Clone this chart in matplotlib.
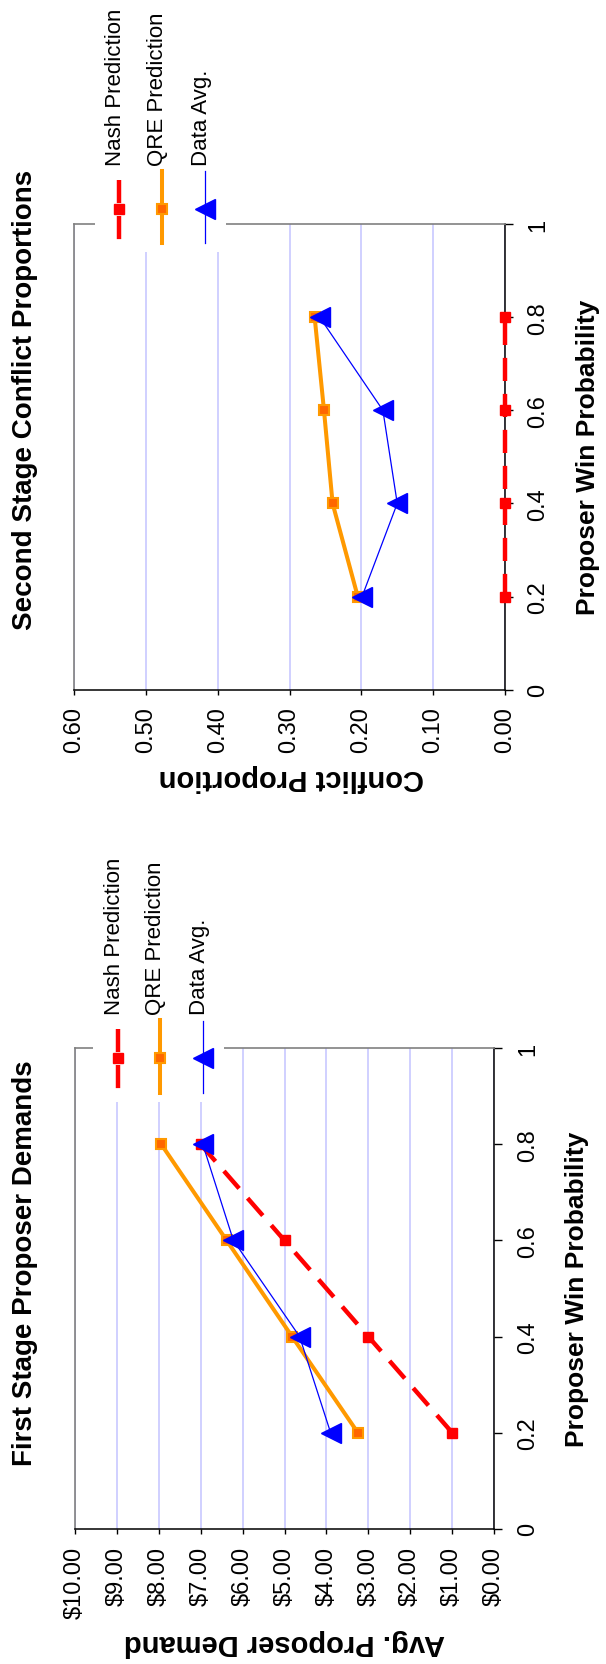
import numpy as np
import matplotlib
matplotlib.use("Agg")
import matplotlib.pyplot as plt
from matplotlib.lines import Line2D
from matplotlib.patches import Rectangle
from matplotlib.ticker import FuncFormatter
from matplotlib import font_manager as fm

# data
prob = [0.2, 0.4, 0.6, 0.8]
labels = ["Nash Prediction", "QRE Prediction", "Data Avg."]

demand_nash = [1.00, 3.00, 5.00, 7.00]
demand_qre = [3.25, 4.82, 6.38, 7.94]
demand_data = [3.90, 4.64, 6.22, 6.95]

conflict_nash = [0.0, 0.0, 0.0, 0.0]
conflict_qre = [0.205, 0.240, 0.252, 0.265]
conflict_data = [0.199, 0.150, 0.170, 0.258]

prob_ticks = [0, 0.2, 0.4, 0.6, 0.8, 1]

W, H = 606, 1665

names = {f.name for f in fm.fontManager.ttflist}
if "Liberation Sans Narrow" in names:
    small_font, small_size, leg_size = "Liberation Sans Narrow", 19, 19
else:
    small_font, small_size, leg_size = "Liberation Sans", 17, 16
plt.rcParams['font.family'] = ['Liberation Sans', 'DejaVu Sans']

nash_style = dict(color='#FF0000', lw=3.2, ls=(0, (5.2, 2.9)), marker='s', ms=7.5,
                  mfc='#FF0000', mec='#FF0000')
qre_style = dict(color='#FF9900', lw=2.9, marker='s', ms=7.5, mfc='#FF6600',
                 mec='#FF9900', mew=1.5)
data_style = dict(color='#0000FF', lw=0.9, marker='<', ms=14.5, mfc='#0000FF',
                  mec='#0000FF')
styles = [nash_style, qre_style, data_style]


def fx(px):
    return px / W


def fy(py):
    return 1 - py / H


fig = plt.figure(figsize=(W / 100, H / 100), dpi=100)


def make_axes(left, top, right, bottom):
    return fig.add_axes([fx(left), fy(bottom), (right - left) / W, (bottom - top) / H])


def setup(ax, xmax, xstep, fmt, xpad, ypad):
    ax.set_xlim(xmax, 0)
    ax.set_ylim(0, 1)
    ax.set_xticks(np.arange(0, xmax + xstep / 2, xstep))
    ax.xaxis.set_major_formatter(FuncFormatter(fmt))
    ax.yaxis.tick_right()
    ax.set_yticks(prob_ticks)
    ax.yaxis.set_major_formatter(FuncFormatter(lambda v, p: '%g' % v))
    ax.grid(axis='x', color='#C8C8FF', lw=1.2)
    ax.grid(axis='y', visible=False)
    ax.set_axisbelow(True)
    for s in ['left', 'top']:
        ax.spines[s].set_color('#808080')
        ax.spines[s].set_linewidth(1.2)
    for s in ['right', 'bottom']:
        ax.spines[s].set_color('black')
        ax.spines[s].set_linewidth(1.1)
    ax.tick_params(axis='x', direction='out', length=3.6, width=1, labelrotation=90,
                   pad=xpad, labelsize=small_size)
    ax.tick_params(axis='y', direction='out', length=5.8, width=1, labelrotation=90,
                   pad=ypad, labelsize=small_size, left=False, right=True)
    for lbl in ax.get_xticklabels() + ax.get_yticklabels():
        lbl.set_fontfamily(small_font)
    for lbl in ax.get_yticklabels():
        lbl.set_va('center')


def legend(xs, y_text, y0, y1, ym, box):
    fig.add_artist(Rectangle((fx(box[0]), fy(box[3])), (box[2] - box[0]) / W,
                             (box[3] - box[1]) / H, transform=fig.transFigure,
                             facecolor='white', edgecolor='none', zorder=4))
    for x, lab, st, start in zip(xs, labels, styles, y0):
        fig.add_artist(Line2D([fx(x)] * 3, [fy(start), fy(ym), fy(y1)],
                              transform=fig.transFigure, markevery=[1],
                              zorder=5, **st))
        fig.text(fx(x - 4), fy(y_text), lab, rotation=90, ha='center', va='bottom',
                 fontsize=leg_size, family=small_font, zorder=6)


# upper chart: second stage conflict
ax1 = make_axes(74, 225, 505, 690.7)
ax1.plot(conflict_nash, prob, clip_on=False, zorder=3, **nash_style)
ax1.plot(conflict_qre, prob, zorder=3, **qre_style)
ax1.plot(conflict_data, prob, zorder=3, **data_style)
setup(ax1, 0.6, 0.1, lambda v, p: '%.2f' % v, 8, 10)
ax1.set_xlabel('Conflict Proportion', rotation=180, fontsize=21, fontweight='bold')
ax1.xaxis.set_label_coords(0.505, -0.1875)
ax1.xaxis.label.set_va('center')
ax1.yaxis.set_label_position('right')
ax1.set_ylabel('Proposer Win Probability', rotation=90, fontsize=19, fontweight='bold')
ax1.yaxis.set_label_coords(1.1926, 0.5)
ax1.yaxis.label.set_va('center')
ax1.yaxis.label.set_ha('center')
fig.text(fx(25), fy(400), 'Second Stage Conflict Proportions', rotation=90,
         ha='center', va='center', fontsize=20, fontweight='bold')
legend([119.3, 161.7, 205], 166, [181, 172, 172], 244, 210, (95, 2, 226, 253))

# lower chart: first stage demands
ax2 = make_axes(75, 1049.3, 494, 1529.7)
ax2.plot(demand_nash, prob, zorder=3, **nash_style)
ax2.plot(demand_qre, prob, zorder=3, **qre_style)
ax2.plot(demand_data, prob, zorder=3, **data_style)
setup(ax2, 10, 1, lambda v, p: '$%.2f' % v, 9, 11)
ax2.set_xlabel('Avg. Proposer Demand', rotation=180, fontsize=21, fontweight='bold')
ax2.xaxis.set_label_coords(0.501, -0.2358)
ax2.xaxis.label.set_va('center')
ax2.yaxis.set_label_position('right')
ax2.set_ylabel('Proposer Win Probability', rotation=90, fontsize=19, fontweight='bold')
ax2.yaxis.set_label_coords(1.1974, 0.5)
ax2.yaxis.label.set_va('center')
ax2.yaxis.label.set_ha('center')
fig.text(fx(25), fy(1263), 'First Stage Proposer Demands', rotation=90,
         ha='center', va='center', fontsize=20, fontweight='bold')
legend([118.3, 160, 203.3], 1015, [1030, 1021, 1022], 1094, 1059.3, (93, 850, 224, 1103))

fig.savefig('out.png', dpi=100)
